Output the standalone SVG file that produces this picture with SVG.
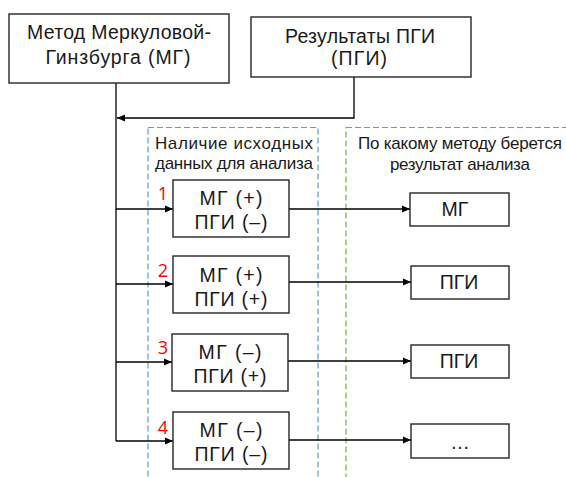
<svg xmlns="http://www.w3.org/2000/svg" width="566" height="477" viewBox="0 0 566 477">
<defs>
<style>
.box{fill:#fff;stroke:#262626;stroke-width:1.4}
.ln{fill:none;stroke:#000;stroke-width:1.3}
.t{font-family:'Liberation Sans','Noto Sans',Arial,sans-serif;fill:#1a1a1a;text-anchor:middle}
.big{font-size:19.5px}
.hd{font-size:17px}
.num{font-family:'Open Sans','Noto Sans','Liberation Sans',sans-serif;font-size:18px;fill:#ff0000;text-anchor:middle}
.blue{fill:none;stroke:#5b9bd5;stroke-width:1.2;stroke-dasharray:6 3}
.green{fill:none;stroke:#70ad47;stroke-width:1.2;stroke-dasharray:6 3}
</style>
<marker id="ah" viewBox="0 0 8 8" refX="8" refY="4" markerWidth="8" markerHeight="8" markerUnits="userSpaceOnUse" orient="auto">
<path d="M0,0.5 L8,4 L0,7.5 Z" fill="#000"/>
</marker>
</defs>
<rect width="566" height="477" fill="#fff"/>

<g id="zones">
<rect class="blue" x="148" y="127.5" width="170" height="360"/>
<rect class="green" x="346" y="127.5" width="230" height="360"/>
<text class="t hd" x="155" y="149" textLength="158" lengthAdjust="spacing" style="text-anchor:start">Наличие исходных</text>
<text class="t hd" x="234" y="169" textLength="158" lengthAdjust="spacing">данных для анализа</text>
<text class="t hd" x="460" y="149" textLength="204" lengthAdjust="spacing">По какому методу берется</text>
<text class="t hd" x="460" y="170" textLength="140" lengthAdjust="spacing">результат анализа</text>
</g>

<g id="connectors">
<path class="ln" d="M116,83 V441"/>
<path class="ln" d="M354,77 V118 H117" marker-end="url(#ah)"/>
<path class="ln" d="M116,209 H173" marker-end="url(#ah)"/>
<path class="ln" d="M116,284 H173" marker-end="url(#ah)"/>
<path class="ln" d="M116,362 H172" marker-end="url(#ah)"/>
<path class="ln" d="M116,441 H173" marker-end="url(#ah)"/>
<path class="ln" d="M289,209 H410" marker-end="url(#ah)"/>
<path class="ln" d="M289,282 H411" marker-end="url(#ah)"/>
<path class="ln" d="M288,361 H411" marker-end="url(#ah)"/>
<path class="ln" d="M289,440 H411" marker-end="url(#ah)"/>
</g>

<g id="mg-method">
<rect class="box" x="9" y="14" width="220" height="69"/>
<text class="t big" x="119" y="39" textLength="184" lengthAdjust="spacing">Метод Меркуловой-</text>
<text class="t big" x="118" y="64" textLength="145" lengthAdjust="spacing">Гинзбурга (МГ)</text>
</g>
<g id="pgi-results">
<rect class="box" x="251" y="17" width="220" height="60"/>
<text class="t big" x="360" y="43" textLength="150" lengthAdjust="spacing">Результаты ПГИ</text>
<text class="t big" x="359" y="65" textLength="56" lengthAdjust="spacing">(ПГИ)</text>
</g>

<g id="case1">
<rect class="box" x="173" y="180" width="116" height="57"/>
<text class="t big" x="231" y="205" textLength="63" lengthAdjust="spacing">МГ (+)</text>
<text class="t big" x="231" y="229" textLength="73" lengthAdjust="spacing">ПГИ (–)</text>
<text class="num" x="163" y="200">1</text>
</g>
<g id="case2">
<rect class="box" x="173" y="256" width="116" height="57"/>
<text class="t big" x="231" y="282" textLength="63" lengthAdjust="spacing">МГ (+)</text>
<text class="t big" x="231" y="306" textLength="73" lengthAdjust="spacing">ПГИ (+)</text>
<text class="num" x="163" y="277">2</text>
</g>
<g id="case3">
<rect class="box" x="172" y="334" width="116" height="57"/>
<text class="t big" x="230" y="359" textLength="63" lengthAdjust="spacing">МГ (–)</text>
<text class="t big" x="230" y="383" textLength="73" lengthAdjust="spacing">ПГИ (+)</text>
<text class="num" x="163" y="354">3</text>
</g>
<g id="case4">
<rect class="box" x="173" y="412" width="116" height="57"/>
<text class="t big" x="231" y="437" textLength="63" lengthAdjust="spacing">МГ (–)</text>
<text class="t big" x="231" y="461" textLength="73" lengthAdjust="spacing">ПГИ (–)</text>
<text class="num" x="163" y="434">4</text>
</g>

<g id="res1">
<rect class="box" x="410" y="193" width="99" height="33"/>
<text class="t big" x="455" y="216">МГ</text>
</g>
<g id="res2">
<rect class="box" x="411" y="266" width="98" height="33"/>
<text class="t big" x="459" y="289">ПГИ</text>
</g>
<g id="res3">
<rect class="box" x="411" y="345" width="98" height="33"/>
<text class="t big" x="459" y="368">ПГИ</text>
</g>
<g id="res4">
<rect class="box" x="411" y="424" width="98" height="34"/>
<text class="t big" x="460" y="449">…</text>
</g>
</svg>
